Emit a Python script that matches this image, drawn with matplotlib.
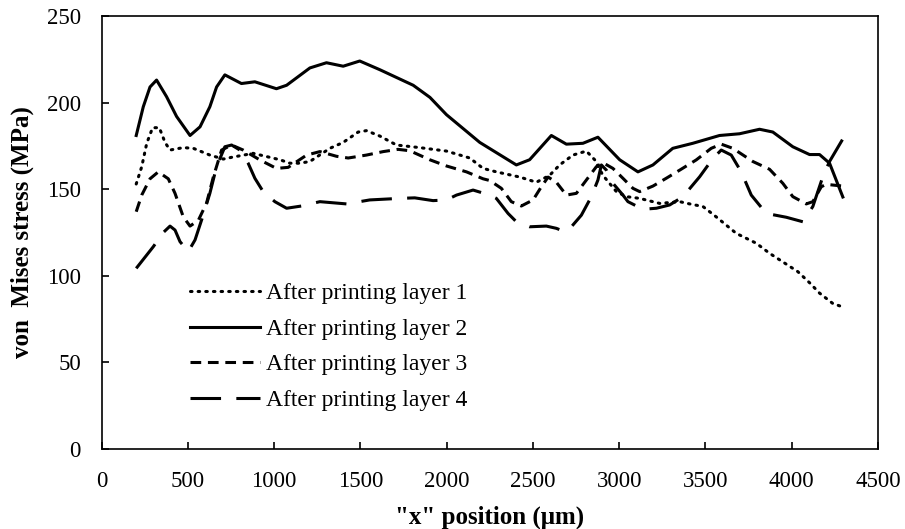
import matplotlib
matplotlib.use('Agg')
from matplotlib import pyplot as plt

plt.rcParams['font.family'] = ['Liberation Serif', 'DejaVu Serif']

# layer 1 (dotted)
x1 = [200, 232, 261, 295, 334, 367, 396, 473, 531, 627, 705, 753, 878, 1033, 1091, 1149,
      1207, 1323, 1400, 1487, 1535, 1612, 1709, 1844, 1999, 2134, 2211, 2288, 2424, 2520,
      2597, 2655, 2732, 2810, 2858, 2906, 2984, 3042, 3119, 3235, 3351, 3409, 3486, 3563,
      3679, 3795, 3872, 4036, 4104, 4162, 4239, 4297]
y1 = [153, 163, 176.5, 185.5, 185.5, 177, 172.6, 174, 173.6, 169.7, 167.4, 168.4, 170.7, 167, 165, 165,
      166, 173.6, 177, 183, 183.8, 180.7, 175.5, 174, 172, 168, 162, 160, 157, 154,
      158, 164, 169.7, 172, 167, 158, 148.6, 145.7, 144.7, 141.8, 142.8, 141.5, 140, 134,
      124.5, 118.8, 113, 102.4, 96, 90, 84, 82]

# layer 2 (solid)
x2 = [200, 241, 280, 318, 376, 434, 512, 570, 627, 666, 714, 810, 888, 1013, 1072, 1207,
      1303, 1400, 1496, 1612, 1806, 1903, 1999, 2192, 2404, 2481, 2607, 2694, 2790, 2877,
      3003, 3109, 3196, 3311, 3427, 3582, 3698, 3814, 3891, 4007, 4104, 4162, 4220, 4297]
y2 = [181, 197.6, 209, 213, 203.4, 192, 181, 186, 197.6, 209, 216, 211, 212, 208, 210, 220,
      223, 221, 224, 219, 210, 203, 193, 177, 164, 167, 181, 176, 176.5, 180,
      167, 160, 164, 173.6, 176.5, 181, 182, 184.6, 183, 174.5, 170, 170, 165, 145.5]

# layer 3 (short dash)
x3 = [200, 232, 280, 328, 386, 425, 473, 512, 560, 608, 647, 695, 753, 820, 917, 1013, 1081,
      1188, 1265, 1361, 1429, 1535, 1632, 1718, 1786, 1902, 1999, 2115, 2211, 2250, 2317,
      2375, 2433, 2501, 2549, 2588, 2636, 2694, 2752, 2810, 2868, 2906, 2964, 3022, 3080,
      3119, 3196, 3273, 3351, 3447, 3534, 3592, 3659, 3775, 3872, 3949, 4007, 4085, 4123,
      4172, 4200, 4297]
y3 = [137, 146.6, 156, 160, 156, 147.6, 134, 128.7, 132, 142, 157, 172.6, 175.5, 172.6, 166.9, 162, 162.6,
      169.7, 171.7, 169, 168, 169.7, 171.7, 173, 172.2, 167, 163.4, 160, 156, 155, 150.5,
      142.8, 140.3, 143.8, 151.4, 157, 154, 146.6, 147.6, 155.3, 163, 165.3, 162, 156.3, 150.5,
      148.6, 151.8, 156.3, 161, 166.9, 173.6, 176, 173.6, 166, 161.5, 153.4, 145.7, 141.5, 142.8,
      151.4, 152.8, 151.8]

# layer 4 (long dash)
x4 = [200, 299, 357, 396, 425, 454, 502, 541, 579, 627, 666, 714, 753, 801, 849, 888, 936,
      1004, 1072, 1159, 1265, 1419, 1554, 1728, 1815, 1921, 1999, 2057, 2153, 2250, 2288,
      2356, 2404, 2481, 2578, 2636, 2684, 2723, 2781, 2839, 2877, 2897, 2926, 2964, 3022,
      3051, 3138, 3216, 3293, 3370, 3467, 3544, 3592, 3650, 3708, 3766, 3853, 3969, 4065,
      4123, 4181, 4220, 4297]
y4 = [104.3, 116.8, 125, 128.7, 126.4, 119.7, 114, 120.7, 132.2, 147.6, 163, 174.5, 175.5, 172.6, 165, 156.3, 148.6,
      142.8, 139, 140.3, 142.8, 141.5, 143.8, 144.7, 145, 143.4, 143.8, 146.6, 149.5, 146.6, 144.7,
      136, 131.2, 128.3, 128.7, 127.4, 125.5, 128.3, 135, 145.7, 155.3, 164, 161, 153.4, 146.6,
      142.8, 138.4, 139, 140.9, 145.7, 157.2, 167.8, 172.6, 169.7, 160, 146.6, 136, 133.8, 131.2,
      140, 157.2, 166, 179]

labels = ['After printing layer 1', 'After printing layer 2', 'After printing layer 3', 'After printing layer 4']

fig = plt.figure(figsize=(9.05, 5.29), dpi=100)
ax = fig.add_axes([0.1124, 0.1512, 0.8576, 0.8186])

lw = 2.2
ax.plot(x1, y1, color='black', lw=lw, linestyle=(0, (0.5, 2.0)), dash_capstyle='round', label=labels[0])
ax.plot(x2, y2, color='black', lw=lw, linestyle='-', label=labels[1])
ax.plot(x3, y3, color='black', lw=lw, linestyle=(0, (3.5, 2.2)), label=labels[2])
ax.plot(x4, y4, color='black', lw=lw, linestyle=(0, (10, 5)), label=labels[3])

ax.set_xlim(0, 4500)
ax.set_ylim(0, 250)
ax.set_xticks(range(0, 4501, 500))
ax.set_yticks(range(0, 251, 50))
ax.tick_params(direction='in', labelsize=16.5, length=5, width=1.2)
ax.tick_params(axis='x', pad=15.5)
ax.tick_params(axis='y', pad=15)
for s in ax.spines.values():
    s.set_linewidth(1.2)

ax.set_xlabel('"x" position (\u03bcm)', fontsize=18, fontweight='bold', labelpad=10)
ax.set_ylabel('von  Mises stress (MPa)', fontsize=18, fontweight='bold')
ax.yaxis.set_label_coords(-0.087, 0.5)

ax.legend(loc='upper left', bbox_to_anchor=(0.09, 0.428), frameon=False, fontsize=17,
          handlelength=2.95, handletextpad=0.25, labelspacing=0.6, borderpad=0.3)

plt.savefig('out.png', dpi=100)
